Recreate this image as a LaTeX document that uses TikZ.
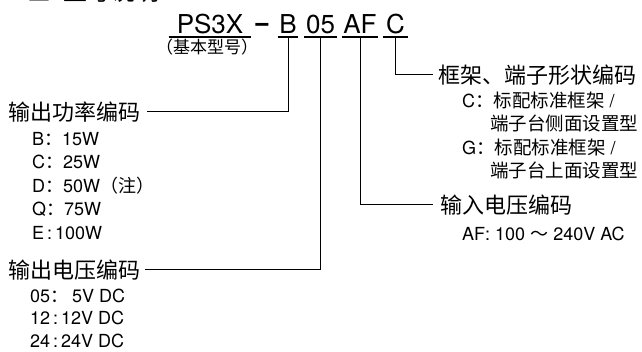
\documentclass[tikz,border=0pt]{standalone}
\usepackage{fontspec}
\setmainfont{TeX Gyre Heros}
\newfontfamily\cjk{Noto Sans CJK SC}
\newfontfamily\dashfont{Liberation Sans}
\tikzset{
  lead/.style={line width=1pt},
  uline/.style={line width=1.2pt},
  mainlbl/.style={font=\cjk\fontsize{22}{22}\selectfont, inner sep=0pt, anchor=west},
  sublbl/.style={font=\fontsize{18}{18}\selectfont, inner sep=0pt, anchor=base west},
  cjksub/.style={font=\cjk\fontsize{18.5}{18.5}\selectfont, inner sep=0pt, anchor=base west},
  codebox/.style={font=\fontsize{26}{26}\selectfont, inner xsep=1.5pt, inner ysep=0pt, anchor=base},
}
\begin{document}
\begin{tikzpicture}[x=1pt,y=-1pt]
\useasboundingbox (0,0) rectangle (642,352);
% cut-off title
\node[font=\cjk\fontsize{24}{24}\selectfont, inner sep=0pt, anchor=base west] (title) at (27,1) {■\hspace{12pt}型号说明};
% model code
\node[codebox, inner xsep=8pt] (PS) at (210,34) {PS3X};
\node[font=\cjk\fontsize{17}{17}\selectfont, inner sep=0pt] (base) at (207,47.5) {（基本型号）};
\node[font=\dashfont\bfseries\fontsize{26}{26}\selectfont, inner sep=0pt, anchor=base] (dash) at (262,34) {−};
\node[codebox] (B) at (288,34) {B};
\node[codebox] (V) at (320.5,34) {05};
\node[codebox] (AF) at (360,34) {AF};
\node[codebox, inner xsep=3pt] (C) at (395.5,34) {C};
\foreach \n in {PS,B,V,AF,C}
  \draw[uline] ([yshift=-3pt]\n.base west) -- ([yshift=-3pt]\n.base east);
% labels
\node[mainlbl] (pw) at (8,112) {输出功率编码};
\node[mainlbl] (vo) at (8,270) {输出电压编码};
\node[mainlbl] (frame) at (438,75) {框架、端子形状编码};
\node[mainlbl] (vin) at (440,205) {输入电压编码};
% connectors
\draw[lead] ([yshift=-3pt]B.base) |- ([xshift=7pt]pw.east);
\draw[lead] ([yshift=-3pt]V.base) |- ([xshift=5pt]vo.east);
\draw[lead] ([yshift=-3pt]AF.base) |- ([xshift=-7pt]vin.west);
\draw[lead] ([yshift=-3pt]C.base) |- ([xshift=-5pt]frame.west);
% power items
\node[sublbl] (p1) at (32,146) {B{\cjk ：}15W};
\node[sublbl] (p2) at (32,169) {C{\cjk ：}25W};
\node[sublbl] (p3) at (32,193) {D{\cjk ：}50W{\cjk （注）}};
\node[sublbl] (p4) at (32,216) {Q{\cjk ：}75W};
\node[sublbl] (p5) at (32,240) {E\,:\,100W};
% voltage items
\node[sublbl] (v1) at (30,303) {05{\cjk ：}\hspace{4pt}5V DC};
\node[sublbl] (v2) at (30,325) {12\,:\,12V DC};
\node[sublbl] (v3) at (30,347) {24\,:\,24V DC};
% frame items
\node[sublbl] (f1) at (462,108) {C{\cjk\fontsize{18.5}{18.5}\selectfont ：标配标准框架} /};
\node[cjksub] (f2) at (490,131) {端子台侧面设置型};
\node[sublbl] (f3) at (462,155) {G{\cjk\fontsize{18.5}{18.5}\selectfont ：标配标准框架} /};
\node[cjksub] (f4) at (490,178) {端子台上面设置型};
% input item
\node[sublbl] (a1) at (462,241) {AF: 100 {\cjk ～} 240V AC};
\end{tikzpicture}
\end{document}
